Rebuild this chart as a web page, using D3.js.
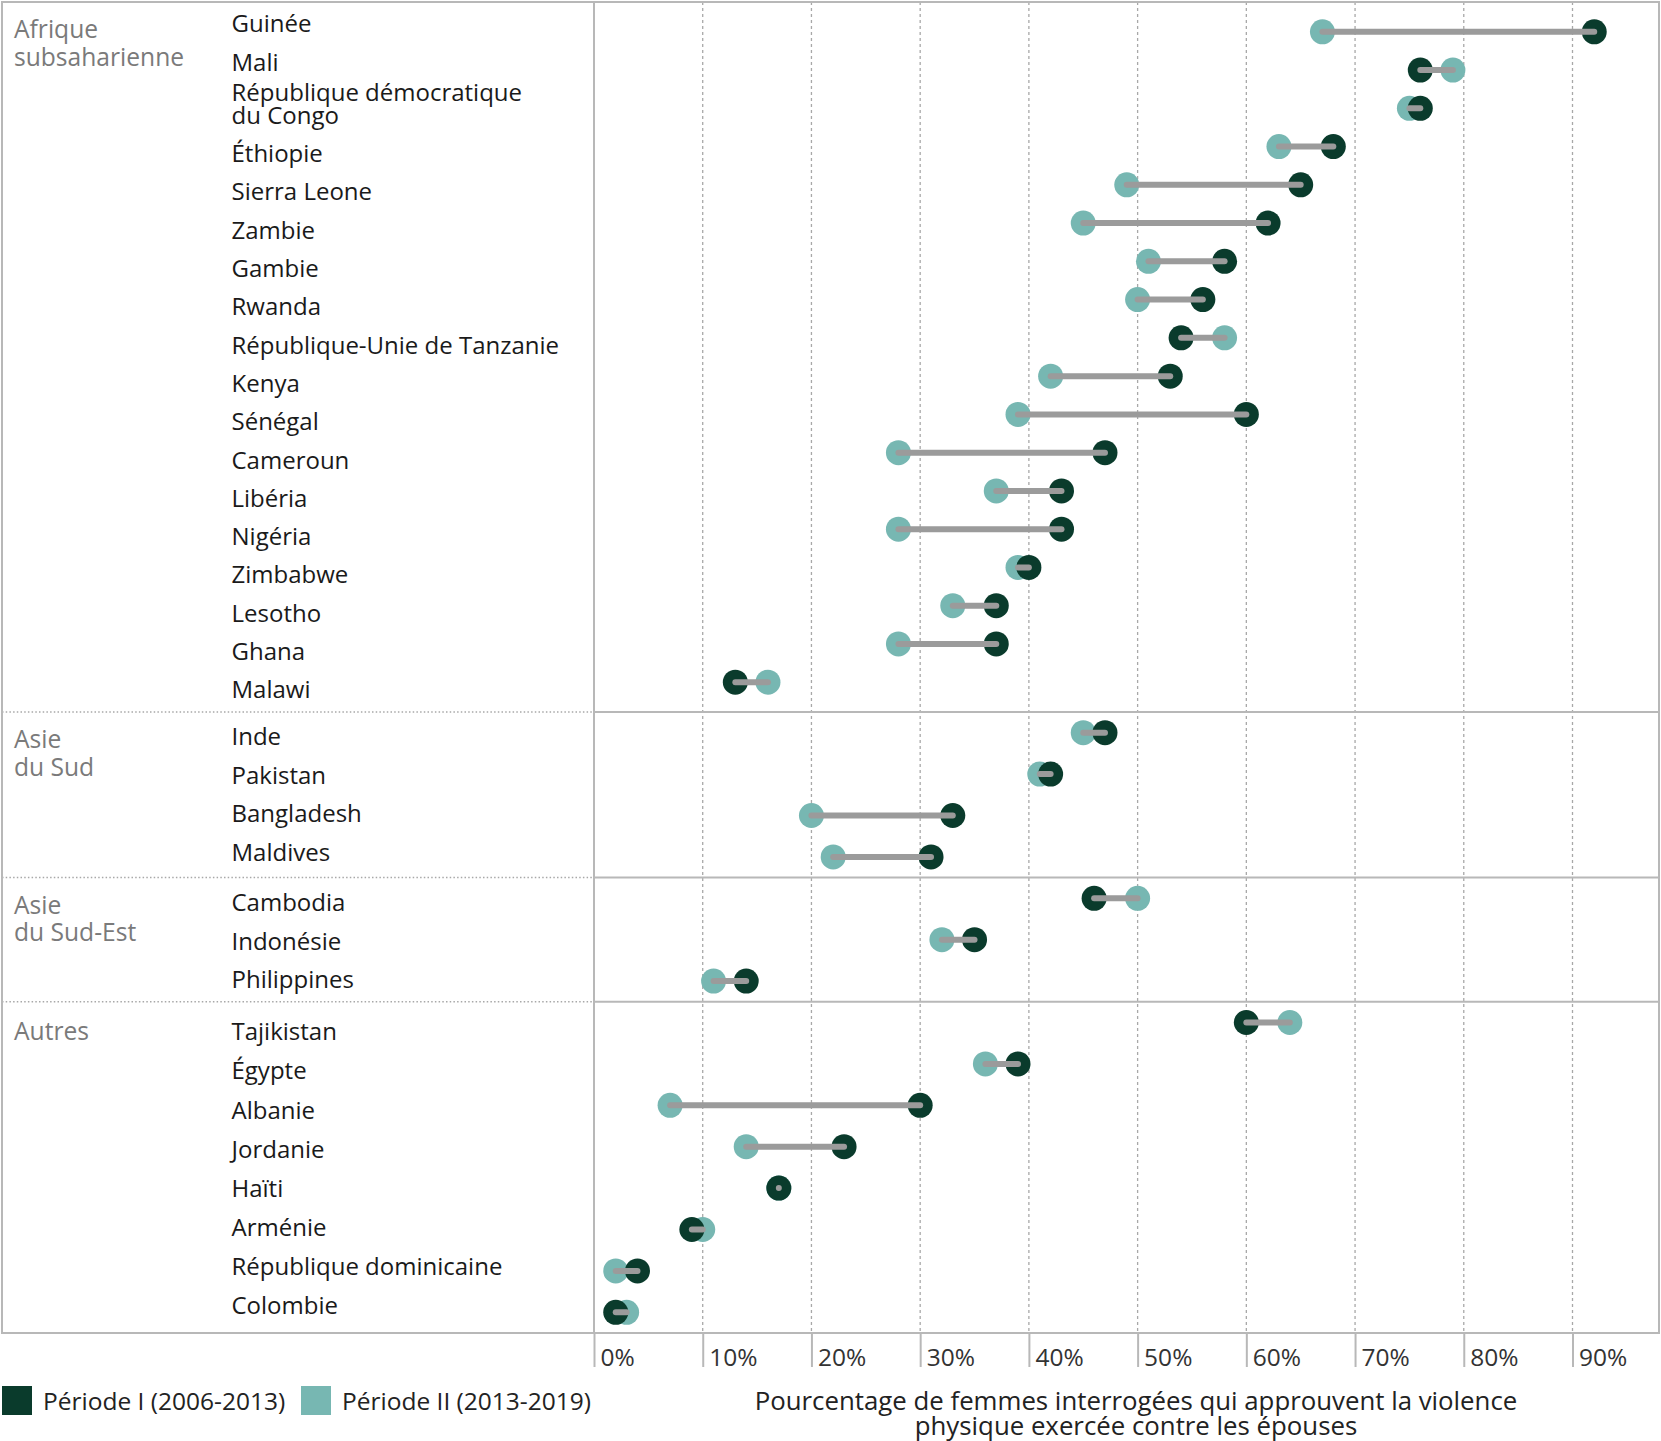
<!DOCTYPE html>
<html>
<head>
<meta charset="utf-8">
<script src="https://cdn.jsdelivr.net/npm/d3@7"></script>
<style>
  html, body { margin: 0; padding: 0; background: #fff; }
  svg { display: block; }
  text { font-family: "Open Sans", "Noto Sans", sans-serif; }
</style>
</head>
<body>
<svg id="chart" width="1661" height="1441"></svg>
<script>
// ---------------- DATA ----------------
const groupNames = [
  ["Afrique", "subsaharienne"],
  ["Asie", "du Sud"],
  ["Asie", "du Sud-Est"],
  ["Autres"]
];
const countries = [
  "Guinée", "Mali", "République démocratique\ndu Congo", "Éthiopie", "Sierra Leone", "Zambie",
  "Gambie", "Rwanda", "République-Unie de Tanzanie", "Kenya", "Sénégal", "Cameroun",
  "Libéria", "Nigéria", "Zimbabwe", "Lesotho", "Ghana", "Malawi",
  "Inde", "Pakistan", "Bangladesh", "Maldives",
  "Cambodia", "Indonésie", "Philippines",
  "Tajikistan", "Égypte", "Albanie", "Jordanie", "Haïti", "Arménie", "République dominicaine", "Colombie"
];
const countryGroup = [
  0,0,0,0,0,0,0,0,0,0,0,0,0,0,0,0,0,0,
  1,1,1,1,
  2,2,2,
  3,3,3,3,3,3,3,3
];
// Période I (2006-2013)
const period1 = [
  92, 76, 76, 68, 65, 62, 58, 56, 54, 53, 60, 47, 43, 43, 40, 37, 37, 13,
  47, 42, 33, 31,
  46, 35, 14,
  60, 39, 30, 23, 17, 9, 4, 2
];
// Période II (2013-2019)
const period2 = [
  67, 79, 75, 63, 49, 45, 51, 50, 58, 42, 39, 28, 37, 28, 39, 33, 28, 16,
  45, 41, 20, 22,
  50, 32, 11,
  64, 36, 7, 14, 17, 10, 2, 3
];
const xTicks = [0, 10, 20, 30, 40, 50, 60, 70, 80, 90];
const legendLabels = ["Période I (2006-2013)", "Période II (2013-2019)"];
const axisTitle = ["Pourcentage de femmes interrogées qui approuvent la violence",
                   "physique exercée contre les épouses"];

// ---------------- LAYOUT ----------------
const frameL = 2, frameT = 2, frameR = 1659, plotB = 1333;
const plotL = 594;
const otherBand = 41.4;
const groupPadding = [0.78, 0.5, 0.5, 0.5];
const labelPadTop = [22, 25, 25, 30];
const labelPadBot = [22, 25, 22, 27];
const extraLine = 14.8, lineH = 23.3, multiShift = 3.2;
const colDark = "#0a3b2c", colTeal = "#77b7b2", colLine = "#9b9b9b";
const colFrame = "#b8b8b8", colGrid = "#a8a8a8";

const svg = d3.select("#chart");

const x = d3.scaleLinear().domain([0, 90]).range([plotL, 1572.5]);

// group geometry
const groupIdx = groupNames.map((_, g) => countries.map((c, i) => i).filter(i => countryGroup[i] === g));
const counts = groupIdx.map(a => a.length);
const otherTotal = d3.sum(counts.slice(1)) * otherBand;
const heights = counts.map((n, g) => g === 0 ? (plotB - frameT) - otherTotal : n * otherBand);
const tops = [];
heights.reduce((acc, h, g) => { tops[g] = acc; return acc + h; }, frameT);

// dot y positions and label positions per country
const dotY = new Array(countries.length);
const labelY = new Array(countries.length);
groupIdx.forEach((idx, g) => {
  const ys = d3.scalePoint().domain(idx).range([tops[g], tops[g] + heights[g]]).padding(groupPadding[g]);
  idx.forEach(i => dotY[i] = ys(i));
  const lines = idx.map(i => countries[i].split("\n").length);
  const extraTot = d3.sum(lines, l => l - 1) * extraLine;
  const span = heights[g] - labelPadTop[g] - labelPadBot[g];
  const step = idx.length > 1 ? (span - extraTot) / (idx.length - 1) : 0;
  let extra = 0;
  idx.forEach((i, k) => {
    labelY[i] = tops[g] + labelPadTop[g] + k * step + extra + (lines[k] - 1) * multiShift;
    extra += (lines[k] - 1) * extraLine;
  });
});

// ---------------- FRAME & GRID ----------------
svg.append("g")
  .selectAll("line")
  .data(xTicks.slice(1))
  .join("line")
  .attr("x1", d => x(d)).attr("x2", d => x(d))
  .attr("y1", frameT).attr("y2", plotB)
  .attr("stroke", colGrid).attr("stroke-width", 1.3)
  .attr("stroke-dasharray", "3,3");

const seps = tops.slice(1);
svg.append("g").selectAll("line")
  .data(seps).join("line")
  .attr("x1", frameL).attr("x2", plotL)
  .attr("y1", d => d).attr("y2", d => d)
  .attr("stroke", colGrid).attr("stroke-width", 1.5)
  .attr("stroke-dasharray", "1.5,2.2");
svg.append("g").selectAll("line")
  .data(seps).join("line")
  .attr("x1", plotL).attr("x2", frameR)
  .attr("y1", d => d).attr("y2", d => d)
  .attr("stroke", colFrame).attr("stroke-width", 2);

svg.append("rect")
  .attr("x", frameL).attr("y", frameT)
  .attr("width", frameR - frameL).attr("height", plotB - frameT)
  .attr("fill", "none").attr("stroke", colFrame).attr("stroke-width", 2);

const axis = svg.append("g")
  .attr("transform", `translate(0,${plotB})`)
  .call(d3.axisBottom(x).tickValues(xTicks).tickSize(34).tickFormat(d => d + "%"));
axis.select(".domain").remove();
axis.selectAll(".tick line").attr("stroke", colFrame).attr("stroke-width", 2);
axis.selectAll(".tick text")
  .attr("x", 6).attr("y", 33).attr("dy", null)
  .attr("text-anchor", "start")
  .attr("fill", "#333")
  .style("font-size", "24.5px")
  .style("font-family", '"Open Sans", sans-serif');
svg.append("line")
  .attr("x1", x(0)).attr("x2", x(0))
  .attr("y1", frameT).attr("y2", plotB)
  .attr("stroke", colFrame).attr("stroke-width", 2);

// ---------------- LABELS ----------------
const gLab = svg.append("g");
groupNames.forEach((lines, g) => {
  const t = gLab.append("text")
    .attr("x", 14).attr("y", tops[g] + (g === 3 ? 29.5 : 27.5))
    .attr("fill", "#7a7a7a").style("font-size", "24.6px");
  lines.forEach((ln, k) => t.append("tspan").attr("x", 14).attr("dy", k === 0 ? "0.35em" : 27.5).text(ln));
});

countries.forEach((c, i) => {
  const lines = c.split("\n");
  const t = gLab.append("text")
    .attr("x", 231.5)
    .attr("y", labelY[i] - (lines.length - 1) * lineH / 2)
    .attr("fill", "#1a1a1a").style("font-size", "24px");
  lines.forEach((ln, k) => t.append("tspan").attr("x", 231.5).attr("dy", k === 0 ? "0.35em" : lineH).text(ln));
});

// ---------------- MARKS ----------------
const rows = countries.map((c, i) => ({ c, y: dotY[i], p1: period1[i], p2: period2[i] }));
const gMarks = svg.append("g");
gMarks.selectAll("circle.p2").data(rows).join("circle")
  .attr("class", "p2")
  .attr("cx", d => x(d.p2)).attr("cy", d => d.y).attr("r", 12.5)
  .attr("fill", colTeal);
gMarks.selectAll("circle.p1").data(rows).join("circle")
  .attr("class", "p1")
  .attr("cx", d => x(d.p1)).attr("cy", d => d.y).attr("r", 12.5)
  .attr("fill", colDark);
gMarks.selectAll("line.conn").data(rows).join("line")
  .attr("class", "conn")
  .attr("x1", d => x(d.p2)).attr("x2", d => x(d.p1) + (d.p1 === d.p2 ? 0.01 : 0))
  .attr("y1", d => d.y).attr("y2", d => d.y)
  .attr("stroke", colLine).attr("stroke-width", 6).attr("stroke-linecap", "round");

// ---------------- LEGEND ----------------
const legend = svg.append("g");
const legCols = [colDark, colTeal];
const legX = [2, 301];
legendLabels.forEach((lab, k) => {
  legend.append("rect").attr("x", legX[k]).attr("y", 1386).attr("width", 30).attr("height", 29).attr("fill", legCols[k]);
  legend.append("text").attr("x", legX[k] + 41).attr("y", 1401).attr("dy", "0.35em")
    .attr("fill", "#222").style("font-size", "24.5px").text(lab);
});

const tt = svg.append("text").attr("x", 1136).attr("y", 1401)
  .attr("text-anchor", "middle").attr("fill", "#222").style("font-size", "25.8px");
axisTitle.forEach((ln, k) => tt.append("tspan").attr("x", 1136).attr("dy", k === 0 ? "0.35em" : 24.5).text(ln));
</script>
</body>
</html>
